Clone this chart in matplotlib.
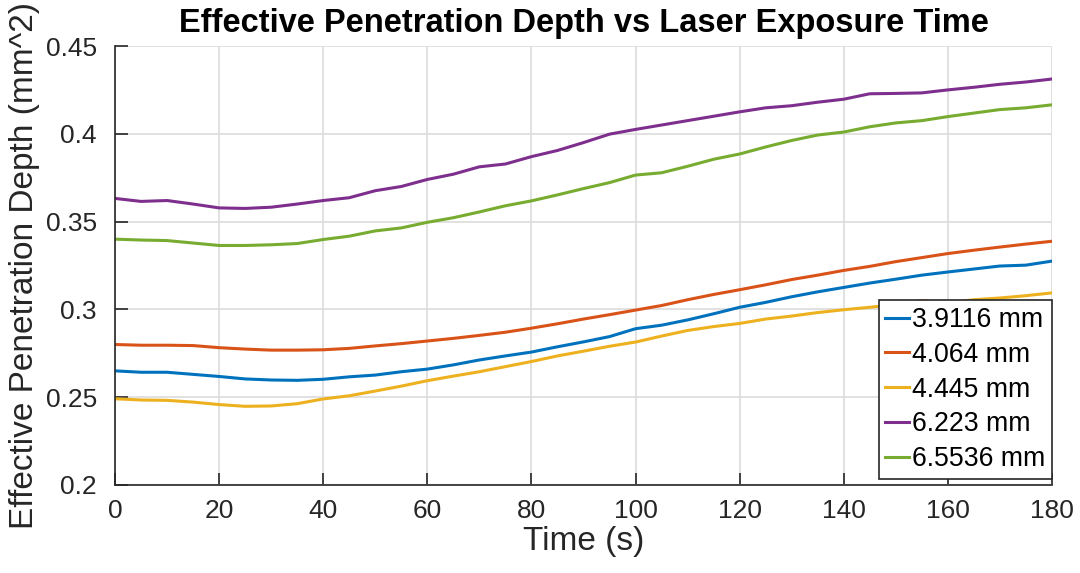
import matplotlib
matplotlib.use("Agg")
import matplotlib.pyplot as plt
import numpy as np

# tiempo de exposicion (s), un punto cada 5 s
tiempo = np.arange(0, 181, 5)

etiquetas = ["3.9116 mm", "4.064 mm", "4.445 mm", "6.223 mm", "6.5536 mm"]

prof_39116 = [0.2650, 0.2642, 0.2642, 0.2630, 0.2618, 0.2604, 0.2598, 0.2596, 0.2602, 0.2616,
              0.2626, 0.2645, 0.2660, 0.2684, 0.2712, 0.2735, 0.2757, 0.2787, 0.2815, 0.2845,
              0.2890, 0.2910, 0.2940, 0.2975, 0.3012, 0.3040, 0.3072, 0.3100, 0.3125, 0.3150,
              0.3172, 0.3195, 0.3213, 0.3230, 0.3247, 0.3252, 0.3275]
prof_4064 = [0.2800, 0.2796, 0.2796, 0.2794, 0.2782, 0.2774, 0.2768, 0.2768, 0.2770, 0.2778,
             0.2792, 0.2805, 0.2820, 0.2835, 0.2852, 0.2870, 0.2893, 0.2918, 0.2945, 0.2970,
             0.2996, 0.3022, 0.3055, 0.3085, 0.3112, 0.3140, 0.3170, 0.3195, 0.3222, 0.3245,
             0.3272, 0.3295, 0.3318, 0.3337, 0.3355, 0.3372, 0.3388]
prof_4445 = [0.2491, 0.2484, 0.2482, 0.2472, 0.2458, 0.2448, 0.2450, 0.2463, 0.2490, 0.2508,
             0.2535, 0.2563, 0.2594, 0.2620, 0.2645, 0.2674, 0.2703, 0.2735, 0.2762, 0.2790,
             0.2814, 0.2848, 0.2880, 0.2902, 0.2920, 0.2945, 0.2962, 0.2982, 0.2998, 0.3012,
             0.3028, 0.3050, 0.3038, 0.3055, 0.3065, 0.3078, 0.3094]
prof_6223 = [0.3632, 0.3615, 0.3620, 0.3600, 0.3578, 0.3575, 0.3582, 0.3600, 0.3620, 0.3636,
             0.3676, 0.3700, 0.3740, 0.3770, 0.3812, 0.3828, 0.3870, 0.3905, 0.3950, 0.3998,
             0.4025, 0.4050, 0.4075, 0.4100, 0.4125, 0.4148, 0.4160, 0.4180, 0.4197, 0.4228,
             0.4230, 0.4233, 0.4250, 0.4265, 0.4282, 0.4295, 0.4312]
prof_65536 = [0.3400, 0.3395, 0.3392, 0.3378, 0.3364, 0.3364, 0.3368, 0.3375, 0.3398, 0.3417,
              0.3447, 0.3464, 0.3496, 0.3522, 0.3555, 0.3590, 0.3618, 0.3652, 0.3688, 0.3722,
              0.3765, 0.3778, 0.3815, 0.3855, 0.3885, 0.3925, 0.3962, 0.3993, 0.4010, 0.4040,
              0.4062, 0.4075, 0.4098, 0.4118, 0.4138, 0.4148, 0.4165]

series = [prof_39116, prof_4064, prof_4445, prof_6223, prof_65536]
colores = ["#0072BD", "#D95319", "#EDB120", "#7E2F8E", "#77AC30"]

plt.rcParams["font.family"] = ["Liberation Sans", "DejaVu Sans"]

fig = plt.figure(figsize=(10.8, 5.73), dpi=100)
ax = fig.add_axes([0.1065, 0.1536, 0.8675, 0.7661])

for datos, color, etiqueta in zip(series, colores, etiquetas):
    ax.plot(tiempo, datos, color=color, linewidth=2.2, label=etiqueta)

ax.set_xlim(0, 180)
ax.set_ylim(0.2, 0.45)
ax.set_xticks(range(0, 181, 20))
ax.set_yticks([0.2, 0.25, 0.3, 0.35, 0.4, 0.45])
ax.set_yticklabels(["0.2", "0.25", "0.3", "0.35", "0.4", "0.45"])

ax.grid(True, color="#dcdcdc", linewidth=1.2)
ax.set_axisbelow(True)
for lado in ["top", "right"]:
    ax.spines[lado].set_visible(False)
for lado in ["left", "bottom"]:
    ax.spines[lado].set_color("#262626")
    ax.spines[lado].set_linewidth(1.2)
ax.tick_params(direction="in", length=9, width=1.2, colors="#262626",
               labelsize=19)
ax.tick_params(axis="y", pad=13)
ax.tick_params(axis="x", pad=10)

ax.set_title("Effective Penetration Depth vs Laser Exposure Time",
             fontsize=23.5, fontweight="bold", pad=10)
ax.set_xlabel("Time (s)", fontsize=24, color="#262626", labelpad=2)
ax.set_ylabel("Effective Penetration Depth (mm^2)", fontsize=24,
              color="#262626", labelpad=4)

leg = ax.legend(loc="lower right", bbox_to_anchor=(1.0, 0.014), borderaxespad=0,
                fontsize=19.2, handlelength=0.9, handletextpad=0.1,
                labelspacing=0.33, borderpad=0.25, fancybox=False, framealpha=1)
leg.get_frame().set_edgecolor("#262626")
leg.get_frame().set_linewidth(1.2)

fig.savefig("out.png", dpi=100)
